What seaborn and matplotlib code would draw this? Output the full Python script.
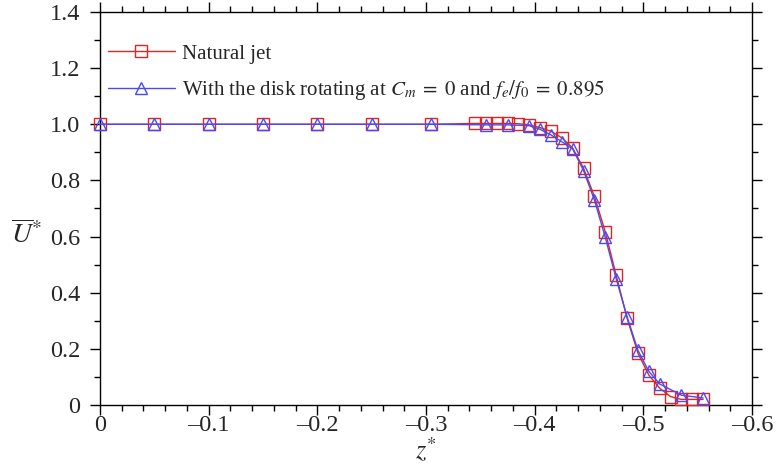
import matplotlib
matplotlib.use("Agg")
import matplotlib.pyplot as plt
import seaborn as sns
import pandas as pd
from matplotlib.ticker import MultipleLocator, FuncFormatter

# ---- data ----
natural_z = [0, -0.05, -0.1, -0.15, -0.2, -0.25, -0.305,
             -0.345, -0.355, -0.365, -0.375, -0.385, -0.395, -0.405, -0.415,
             -0.425, -0.435, -0.445, -0.455, -0.465, -0.475, -0.485, -0.495,
             -0.505, -0.515, -0.525, -0.535, -0.545, -0.555]
natural_u = [1.0, 1.0, 1.0, 1.0, 1.0, 1.0, 1.0,
             1.003, 1.003, 1.003, 1.003, 1.002, 0.998, 0.988, 0.975,
             0.952, 0.915, 0.843, 0.743, 0.617, 0.462, 0.31, 0.185,
             0.107, 0.06, 0.03, 0.02, 0.02, 0.02]

disk_z = [0, -0.05, -0.1, -0.15, -0.2, -0.25, -0.305,
          -0.355, -0.375, -0.395, -0.405, -0.415, -0.425, -0.435, -0.445,
          -0.455, -0.465, -0.475, -0.485, -0.495, -0.505, -0.515, -0.535, -0.555]
disk_u = [1.0, 1.0, 1.0, 1.0, 1.0, 1.0, 1.0,
          0.998, 0.998, 0.995, 0.982, 0.962, 0.938, 0.912, 0.835,
          0.73, 0.597, 0.45, 0.315, 0.195, 0.12, 0.075, 0.035, 0.025]

labels = ["Natural jet",
          r"With the disk rotating at $C_m\;=\;0$ and $f_e/f_0\;=\;0.895$"]
x_ticks = [0, -0.1, -0.2, -0.3, -0.4, -0.5, -0.6]
y_ticks = [0, 0.2, 0.4, 0.6, 0.8, 1.0, 1.2, 1.4]

sns.set_style("ticks")
plt.rcParams['font.family'] = ['Liberation Serif', 'DejaVu Serif']
plt.rcParams['mathtext.fontset'] = 'stix'

fig = plt.figure(figsize=(7.78, 4.68), dpi=100)
ax = fig.add_axes([100/778, 63/468, 652/778, 393/468])

red = "#e02424"
blue = "#4a4af2"

df1 = pd.DataFrame({"z": natural_z, "u": natural_u})
df2 = pd.DataFrame({"z": disk_z, "u": disk_u})

sns.lineplot(data=df1, x="z", y="u", ax=ax, color=red, lw=1.0, marker="s",
             markersize=8, markerfacecolor="none", markeredgecolor=red,
             markeredgewidth=1.0, label=labels[0], clip_on=False, zorder=3)
sns.lineplot(data=df2, x="z", y="u", ax=ax, color=blue, lw=1.0, marker="^",
             markersize=8, markerfacecolor="none", markeredgecolor=blue,
             markeredgewidth=1.0, label=labels[1], clip_on=False, zorder=4)

ax.set_xlim(0, -0.6)
ax.set_ylim(0, 1.4)
ax.set_xticks(x_ticks)
ax.set_yticks(y_ticks)
ax.xaxis.set_minor_locator(MultipleLocator(0.02))
ax.yaxis.set_minor_locator(MultipleLocator(0.1))

def fmt(v, pos):
    if abs(v) < 1e-9:
        return "0"
    s = f"{v:.1f}"
    return s.replace("-", "\u2013")
ax.xaxis.set_major_formatter(FuncFormatter(fmt))
ax.yaxis.set_major_formatter(FuncFormatter(fmt))

for side in ["top", "right", "left", "bottom"]:
    ax.spines[side].set_visible(True)
    ax.spines[side].set_linewidth(1.0)
    ax.spines[side].set_color("black")

ax.tick_params(which="both", direction="out", top=True, right=True,
               labeltop=False, labelright=False, color="black", width=1.0)
ax.tick_params(which="major", length=7, labelsize=17.5)
ax.tick_params(axis="x", which="major", pad=0)
ax.tick_params(axis="y", which="major", pad=7)
ax.tick_params(which="minor", length=4)

ax.set_xlabel(r"$z^{*}$", fontsize=19, labelpad=0)
ax.set_ylabel(r"$\overline{U}^{*}$", fontsize=20, rotation=0, va="center",
              ha="center")
ax.yaxis.set_label_coords(-74/652, (405 - 235) / 393)

leg = ax.legend(loc="upper left", frameon=False, fontsize=15,
                handlelength=3.2, handletextpad=0.35, labelspacing=0.7,
                borderpad=0.0, borderaxespad=0.0,
                bbox_to_anchor=(8/652, 1 - 32/393))

fig.savefig("out.png", dpi=100)
